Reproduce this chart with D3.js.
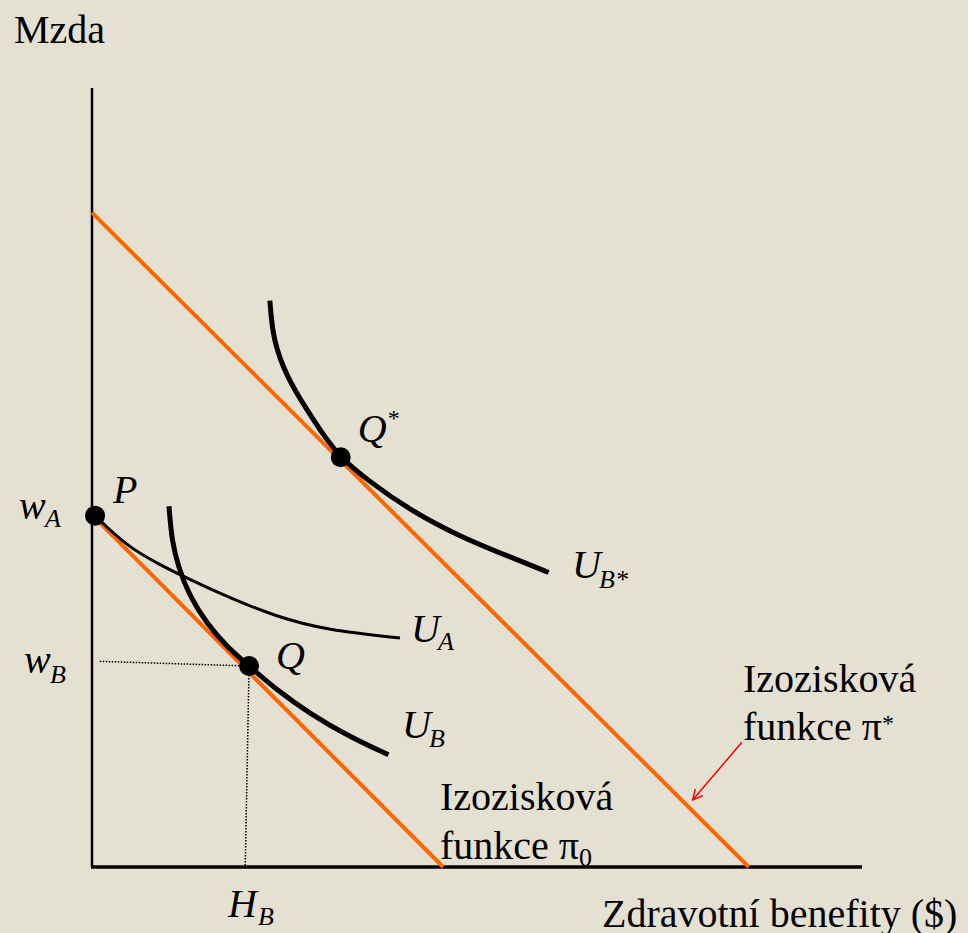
<!DOCTYPE html>
<html>
<head>
<meta charset="utf-8">
<script src="https://cdn.jsdelivr.net/npm/d3@7"></script>
</head>
<body style="margin:0;background:#e5e1d2">
<div id="chart"></div>
<script>
// lines (x = benefits, y = wage, both 0..100)
var izoPiStar = [[0, 84.0], [85.3, 0]];
var izoPi0 = [[0, 45.2], [45.6, 0]];

// indifference curves
var curveUBStar = [[23.1, 72.7], [23.5, 67.65], [25.3, 62.9], [27.9, 58.7], [30.5, 54.8], [32.3, 52.6],
  [35.7, 49.7], [41.3, 45.8], [47.8, 42.4], [54.3, 39.8], [59.3, 37.8]];
var curveUA = [[0.4, 45.1], [4.5, 41.2], [8.8, 38.8], [12.3, 37.1], [17.5, 34.7], [24.0, 32.1],
  [30.5, 30.4], [40.0, 29.4]];
var curveUB = [[10.0, 46.3], [10.35, 42.0], [11.2, 38.5], [12.7, 34.7], [14.9, 31.3], [17.5, 28.3],
  [20.4, 25.8], [24.0, 22.7], [28.3, 19.7], [33.1, 16.9], [38.5, 14.4]];

// points P, Q, Q*
var pointNames = ["P", "Q", "Q"];
var pointsXY = [[0.4, 45.1], [20.4, 25.8], [32.3, 52.6]];

// dotted guides from Q to the axes
var guideWB = [[1.0, 26.4], [20.4, 25.8]];
var guideHB = [[20.4, 25.8], [19.9, 0]];

// red pointer to the pi* line
var arrowPi = [[84.4, 16.0], [78.0, 8.6]];

var width = 968, height = 933;
var fontName = "Liberation Serif";

var svg = d3.select("#chart")
  .append("svg")
    .attr("width", width)
    .attr("height", height);

svg.append("rect")
  .attr("width", width)
  .attr("height", height)
  .attr("fill", "#e5e1d2");

var x = d3.scaleLinear().domain([0, 100]).range([92, 862]);
var y = d3.scaleLinear().domain([0, 100]).range([867, 88]);

var line = d3.line()
  .x(function(d) { return x(d[0]); })
  .y(function(d) { return y(d[1]); });

var smooth = d3.line()
  .x(function(d) { return x(d[0]); })
  .y(function(d) { return y(d[1]); })
  .curve(d3.curveBasis);

// arrow head
svg.append("defs").append("marker")
  .attr("id", "arrow")
  .attr("viewBox", "0 0 12 12")
  .attr("refX", 11)
  .attr("refY", 6)
  .attr("markerWidth", 12)
  .attr("markerHeight", 12)
  .attr("markerUnits", "userSpaceOnUse")
  .attr("orient", "auto")
  .append("path")
    .attr("d", "M1,1 L11,6 L1,11")
    .attr("fill", "none")
    .attr("stroke", "#ff0000")
    .attr("stroke-width", 1.5);

// dotted guides
[guideWB, guideHB].forEach(function(g) {
  svg.append("path")
    .attr("d", line(g))
    .attr("fill", "none")
    .attr("stroke", "#000")
    .attr("stroke-width", 1.5)
    .attr("stroke-dasharray", "1.5,1.5");
});

// axes (no ticks)
svg.append("line")
  .attr("x1", x(0)).attr("x2", x(0))
  .attr("y1", y(0)).attr("y2", y(100))
  .attr("stroke", "#000").attr("stroke-width", 2.5);
svg.append("line")
  .attr("x1", x(0) - 1).attr("x2", x(100))
  .attr("y1", y(0)).attr("y2", y(0))
  .attr("stroke", "#000").attr("stroke-width", 3.5);

// isoprofit lines
[izoPiStar, izoPi0].forEach(function(l) {
  svg.append("path")
    .attr("d", line(l))
    .attr("fill", "none")
    .attr("stroke", "#ff6600")
    .attr("stroke-width", 4);
});

// indifference curves
svg.append("path")
  .attr("d", smooth(curveUBStar))
  .attr("fill", "none").attr("stroke", "#000").attr("stroke-width", 5);
svg.append("path")
  .attr("d", smooth(curveUA))
  .attr("fill", "none").attr("stroke", "#000").attr("stroke-width", 3);
svg.append("path")
  .attr("d", smooth(curveUB))
  .attr("fill", "none").attr("stroke", "#000").attr("stroke-width", 5);

// dots
svg.selectAll("circle.pt")
  .data(pointsXY)
  .enter()
  .append("circle")
    .attr("class", "pt")
    .attr("cx", function(d) { return x(d[0]); })
    .attr("cy", function(d) { return y(d[1]); })
    .attr("r", 10)
    .attr("fill", "#000");

// red arrow
svg.append("path")
  .attr("d", line(arrowPi))
  .attr("fill", "none")
  .attr("stroke", "#ff0000")
  .attr("stroke-width", 1.5)
  .attr("marker-end", "url(#arrow)");

// plain text piece, one element each (no tspans)
function txt(px, py, s, size, italic) {
  var t = svg.append("text")
    .attr("class", "lbl")
    .attr("x", px)
    .attr("y", py)
    .attr("font-family", fontName)
    .style("font-family", "'" + fontName + "', serif", "important")
    .style("font-size", size + "px");
  if (italic) t.style("font-style", "italic");
  t.text(s);
  return t;
}

// axis titles
txt(14, 43, "Mzda", 40);
txt(602, 927, "Zdravotní benefity ($)", 40);

// point labels
txt(x(pointsXY[0][0]) + 18, y(pointsXY[0][1]) - 13, pointNames[0], 40, true);
txt(x(pointsXY[1][0]) + 27, y(pointsXY[1][1]) + 3, pointNames[1], 40, true);
txt(x(pointsXY[2][0]) + 17, y(pointsXY[2][1]) - 15, pointNames[2], 40, true);
txt(x(pointsXY[2][0]) + 47, y(pointsXY[2][1]) - 31, "*", 24);

// wage and benefit labels
txt(19, 519, "w", 40, true);
txt(45, 527, "A", 26, true);
txt(24, 673, "w", 40, true);
txt(50, 683, "B", 26, true);
txt(228, 917, "H", 40, true);
txt(258, 925, "B", 26, true);

// curve labels
txt(572, 578, "U", 40, true);
txt(599, 588, "B*", 26, true);
txt(411, 642, "U", 40, true);
txt(438, 650, "A", 26, true);
txt(402, 738, "U", 40, true);
txt(429, 747, "B", 26, true);

// isoprofit labels
txt(743, 692, "Izozisková", 40);
txt(743, 740, "funkce π", 40);
txt(882, 731, "*", 24);
txt(440, 810, "Izozisková", 40);
txt(440, 859, "funkce π", 40);
txt(579, 866, "0", 26);
</script>
</body>
</html>
